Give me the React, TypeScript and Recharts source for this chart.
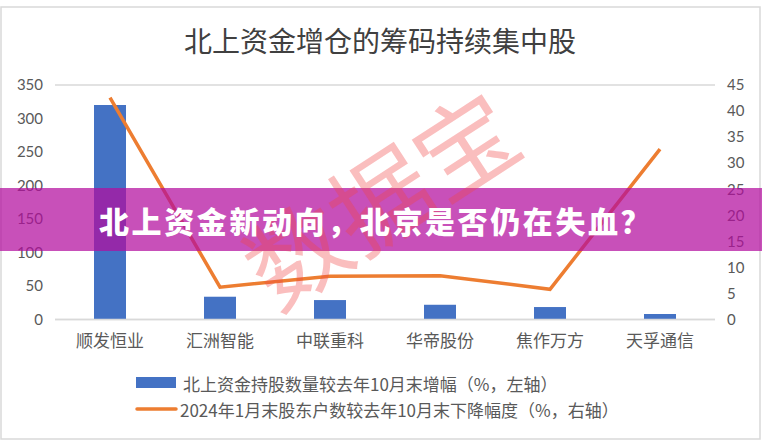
import React from "react";
import { ComposedChart, Bar, Line, XAxis, YAxis, CartesianGrid } from "recharts";

const categories = ["顺发恒业", "汇洲智能", "中联重科", "华帝股份", "焦作万方", "天孚通信"];
const holdingIncrease = [320, 34, 29, 22, 18.6, 8.2];
const holderDecline = [42.6, 6.2, 8.3, 8.4, 5.8, 32.7];
const leftTicks = [0, 50, 100, 150, 200, 250, 300, 350];
const rightTicks = [0, 5, 10, 15, 20, 25, 30, 35, 40, 45];
const barName = "北上资金持股数量较去年10月末增幅（%，左轴）";
const lineName = "2024年1月末股东户数较去年10月末下降幅度（%，右轴）";
const title = "北上资金增仓的筹码持续集中股";
const bannerText = "北上资金新动向，北京是否仍在失血？";
const watermark = "数据宝";

const data = categories.map((c, i) => ({
  name: c,
  bar: holdingIncrease[i],
  line: holderDecline[i],
}));

const CJK = "'Noto Sans CJK SC', 'Noto Sans', sans-serif";
const NUM = "Lato, 'Noto Sans', sans-serif";

export default function App() {
  return (
    <div style={{ position: "absolute", left: 0, top: 0, width: 762, height: 441, background: "#fff" }}>
      <ComposedChart
        width={762}
        height={441}
        data={data}
        margin={{ top: 85, right: 0, bottom: 91.5, left: 0 }}
      >
        <CartesianGrid vertical={false} stroke="#d9d9d9" strokeWidth={1.5} />
        <XAxis
          dataKey="name"
          height={30}
          tickLine={false}
          tickSize={0}
          tickMargin={15}
          axisLine={{ stroke: "#d9d9d9", strokeWidth: 1.5 }}
          tick={{ fontSize: 17, fill: "#595959", fontFamily: CJK }}
          interval={0}
        />
        <YAxis
          yAxisId="left"
          width={55}
          domain={[0, 350]}
          ticks={leftTicks}
          tickLine={false}
          axisLine={false}
          tickSize={0}
          tickMargin={12}
          tick={{ fontSize: 15, fill: "#595959", fontFamily: NUM }}
        />
        <YAxis
          yAxisId="right"
          orientation="right"
          width={47}
          domain={[0, 45]}
          ticks={rightTicks}
          tickLine={false}
          axisLine={false}
          tickSize={0}
          tickMargin={12}
          tick={{ fontSize: 15, fill: "#595959", fontFamily: NUM, textAnchor: "start" }}
        />
        <Bar yAxisId="left" dataKey="bar" name={barName} fill="#4472c4" barSize={32} isAnimationActive={false} />
        <Line
          yAxisId="right"
          dataKey="line"
          name={lineName}
          type="linear"
          stroke="#ed7d31"
          strokeWidth={3.5}
          dot={false}
          activeDot={false}
          isAnimationActive={false}
        />
      </ComposedChart>
      <svg
        width={762}
        height={441}
        style={{ position: "absolute", left: 0, top: 0, pointerEvents: "none" }}
      >
        <rect x={1} y={7} width={759} height={432} fill="none" stroke="#d9d9d9" strokeWidth={1.5} />
        <text x={380} y={40} textAnchor="middle" dominantBaseline="central" fontSize={28} fill="#404040" fontFamily={CJK}>
          {title}
        </text>
        <rect x={136} y={377} width={40} height={11} fill="#4472c4" />
        <text x={183} y={383} dominantBaseline="central" fontSize={17} fill="#595959" fontFamily={CJK}>
          {barName}
        </text>
        <line x1={137} y1={409} x2={176} y2={409} stroke="#ed7d31" strokeWidth={3.5} strokeLinecap="round" />
        <text x={180} y={409} dominantBaseline="central" fontSize={17} fill="#595959" fontFamily={CJK}>
          {lineName}
        </text>
        <rect x={0} y={188} width={762} height={63} fill="rgb(179,12,158)" fillOpacity={0.72} />
        <text
          x={378}
          y={195}
          textAnchor="middle"
          dominantBaseline="central"
          fontSize={100}
          fill="rgb(240,70,70)"
          fillOpacity={0.35}
          fontFamily={CJK}
          transform="rotate(-33 378 195)"
        >
          {watermark}
        </text>
        <text
          x={99}
          y={220}
          dominantBaseline="central"
          fontSize={30}
          fontWeight={900}
          letterSpacing={2.6}
          fill="#ffffff"
          fontFamily={CJK}
        >
          {bannerText}
        </text>
      </svg>
    </div>
  );
}
